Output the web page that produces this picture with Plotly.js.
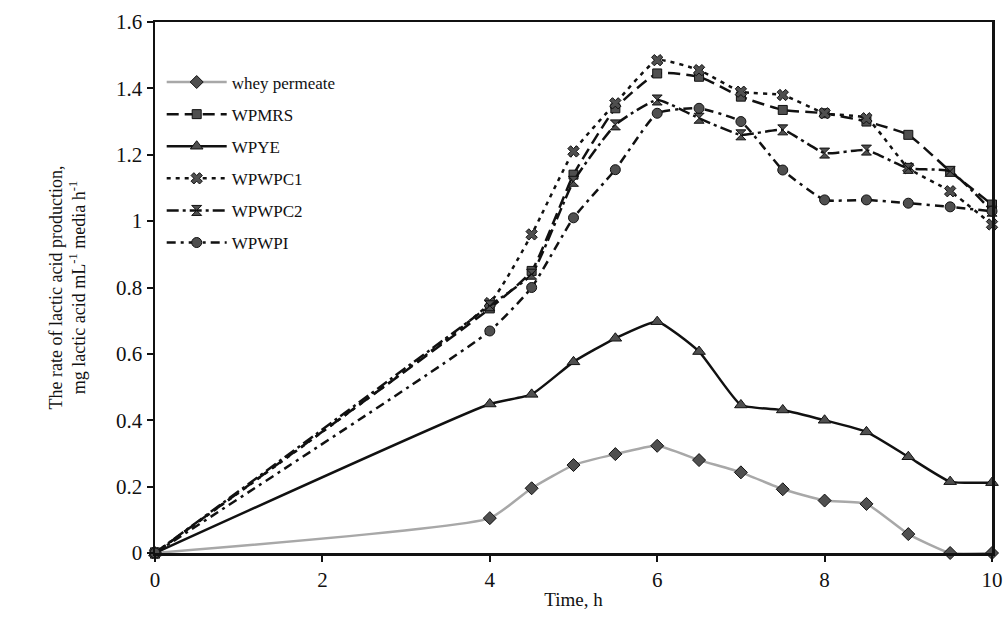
<!DOCTYPE html>
<html>
<head>
<meta charset="utf-8">
<script src="https://cdn.plot.ly/plotly-3.0.1.min.js"></script>
<style>
  html, body { margin: 0; padding: 0; background: #fff; }
  #chart { width: 1008px; height: 631px; }
</style>
</head>
<body>
<div id="chart"></div>
<script>
// Sampling times (h)
const timeH = [0, 4, 4.5, 5, 5.5, 6, 6.5, 7, 7.5, 8, 8.5, 9, 9.5, 10];

// Rate of lactic acid production (mg lactic acid mL-1 media h-1) per medium
const wheyPermeate = [0, 0.105, 0.195, 0.265, 0.298, 0.323, 0.28, 0.243, 0.192, 0.158, 0.148, 0.057, 0, 0];
const wpmrs  = [0, 0.737, 0.85, 1.14, 1.34, 1.445, 1.435, 1.375, 1.335, 1.325, 1.30, 1.26, 1.15, 1.05];
const wpye   = [0, 0.449, 0.478, 0.576, 0.647, 0.697, 0.607, 0.446, 0.431, 0.40, 0.365, 0.29, 0.215, 0.212];
const wpwpc1 = [0, 0.753, 0.96, 1.21, 1.355, 1.485, 1.455, 1.39, 1.38, 1.325, 1.31, 1.16, 1.09, 0.99];
const wpwpc2 = [0, 0.745, 0.84, 1.12, 1.29, 1.365, 1.31, 1.26, 1.275, 1.205, 1.214, 1.159, 1.15, 1.03];
const wpwpi  = [0, 0.669, 0.80, 1.01, 1.155, 1.325, 1.34, 1.30, 1.154, 1.064, 1.064, 1.054, 1.043, 1.03];

const seriesNames = ['whey permeate', 'WPMRS', 'WPYE', 'WPWPC1', 'WPWPC2', 'WPWPI'];
const yTickVals = [0, 0.2, 0.4, 0.6, 0.8, 1, 1.2, 1.4, 1.6];
const xTickVals = [0, 2, 4, 6, 8, 10];

const serif = 'Liberation Serif, Times New Roman, serif';
const markerFill = '#4f4f4f';
const markerEdge = '#111';

function series(name, y, lineStyle, symbol, size) {
  return {
    type: 'scatter',
    mode: 'lines+markers',
    name: name,
    legendgroup: name,
    x: timeH,
    y: y,
    cliponaxis: false,
    line: Object.assign({shape: 'spline', smoothing: 0.45}, lineStyle),
    marker: {symbol: symbol, size: size, color: markerFill,
             line: {color: markerEdge, width: 1}}
  };
}

const traces = [
  series(seriesNames[0], wheyPermeate, {color: '#a8a8a8', width: 2.5}, 'diamond', 10),
  series(seriesNames[1], wpmrs, {color: '#111', width: 2.5, dash: '12px,6px'}, 'square', 9),
  series(seriesNames[2], wpye, {color: '#111', width: 2.5}, 'triangle-up', 11),
  series(seriesNames[3], wpwpc1, {color: '#111', width: 2.5, dash: '4px,5px'}, 'x', 10),
  series(seriesNames[4], wpwpc2, {color: '#111', width: 2.5, dash: '12px,4px,3px,4px'}, 'hourglass', 10),
  series(seriesNames[5], wpwpi, {color: '#111', width: 2.5, dash: '9px,5px,3px,5px'}, 'circle', 10)
];

const layout = {
  width: 1008,
  height: 631,
  margin: {l: 155, r: 16, t: 22, b: 78},
  paper_bgcolor: '#fff',
  plot_bgcolor: '#fff',
  font: {family: serif, color: '#111'},
  showlegend: true,
  legend: {
    x: 0.008, y: 0.92, xanchor: 'left', yanchor: 'top',
    bgcolor: 'rgba(0,0,0,0)',
    font: {family: serif, size: 17, color: '#111'},
    traceorder: 'grouped',
    tracegroupgap: 7,
    itemwidth: 60
  },
  xaxis: {
    range: [0, 10],
    tickvals: xTickVals,
    ticks: 'outside', ticklen: 6, tickwidth: 2, tickcolor: '#111',
    showgrid: false, zeroline: false,
    showline: true, linecolor: '#111', linewidth: 2.5, mirror: true,
    tickfont: {family: serif, size: 21, color: '#111'},
    title: {text: 'Time, h', font: {family: serif, size: 19, color: '#111'}, standoff: 2}
  },
  yaxis: {
    range: [0, 1.6],
    tickvals: yTickVals,
    ticks: 'outside', ticklen: 6, tickwidth: 2, tickcolor: '#111',
    showgrid: false, zeroline: false,
    showline: true, linecolor: '#111', linewidth: 2.5, mirror: true,
    tickfont: {family: serif, size: 21, color: '#111'},
    title: {
      text: 'The rate of lactic acid production,<br>mg lactic acid mL<sup>-1</sup> media h<sup>-1</sup>',
      font: {family: serif, size: 18, color: '#111'},
      standoff: 26
    }
  }
};

Plotly.newPlot('chart', traces, layout, {displayModeBar: false, staticPlot: true});
</script>
</body>
</html>
